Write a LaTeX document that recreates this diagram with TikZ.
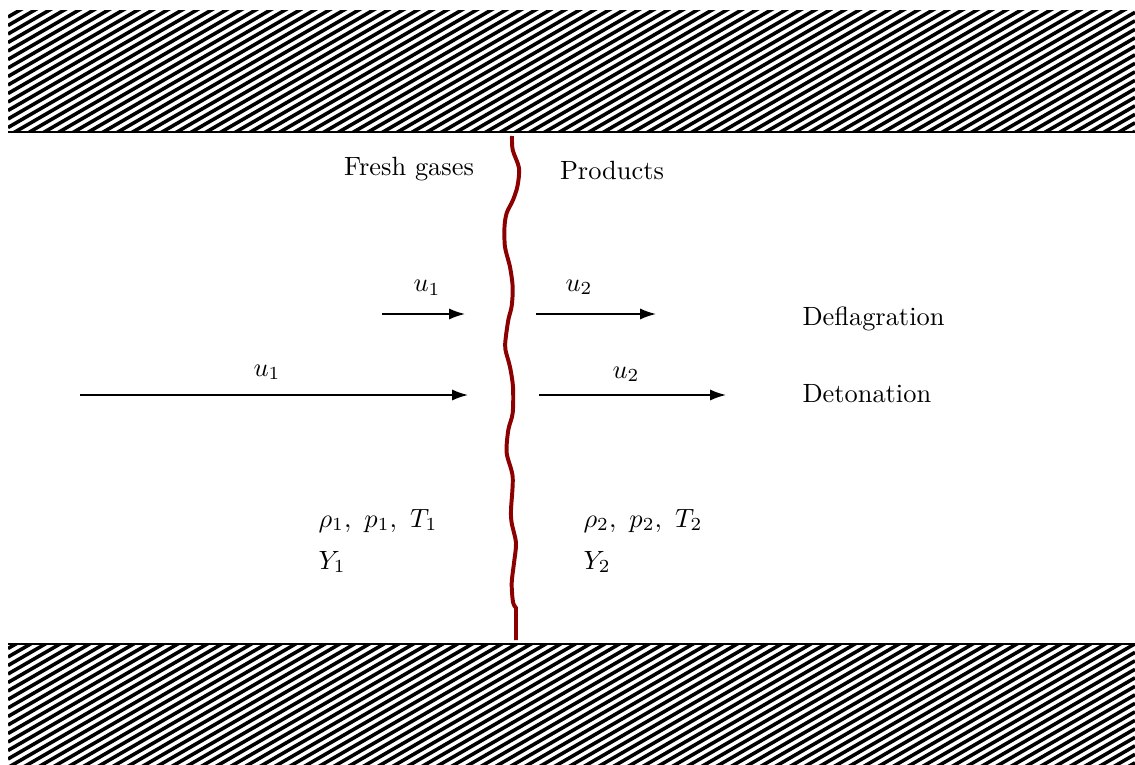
\documentclass[tikz,border=0pt]{standalone}
\usetikzlibrary{arrows.meta}
\definecolor{flamered}{RGB}{139,0,0}
\begin{document}
\begin{tikzpicture}[x=0.379pt,y=-0.379pt,
  hatchline/.style={line width=1.35pt,line cap=butt},
  wallline/.style={line width=1pt},
  flow/.style={line width=0.6pt,-{Latex[length=6pt,width=4.2pt]}},
  flame/.style={draw=flamered,line width=1.5pt},
  lbl/.style={anchor=base,inner sep=0pt},
  lbll/.style={anchor=base west,inner sep=0pt}]
\useasboundingbox (0,0) rectangle (1135,765);
% walls
\begin{scope}
  \clip (8,10) rectangle (1135,132);
  \foreach \c in {0,8.5,...,800} \draw[hatchline] (8,\c) -- (1135,{\c-650.7});
\end{scope}
\draw[wallline] (8,132) -- (1135,132);
\begin{scope}
  \clip (8,644) rectangle (1135,765);
  \foreach \c in {640,648.5,...,1430} \draw[hatchline] (8,\c) -- (1135,{\c-650.7});
\end{scope}
\draw[wallline] (8,644) -- (1135,644);
% flame front
\draw[flame] plot[smooth,tension=0.5] coordinates {(512,136) (512.7,150) (519,168) (517.5,186) (513,200) (506.7,213) (504.5,227) (505,247) (510,267) (512.7,287) (511.7,306) (508.3,320) (505.5,340) (505.5,350) (510,367) (513,387) (512.7,413) (508.3,430) (506.7,453) (512.7,477) (511,510) (511.7,523) (516,543) (514,563) (511.7,583) (513,602) (516,608)} -- (516,640);
% labels
\node[lbl] (fresh) at (409,175) {Fresh gases};
\node[lbl] (prod) at (612,179) {Products};
\node[lbll] (defl) at (802,325) {Deflagration};
\node[lbll] (deto) at (802,402) {Detonation};
% deflagration arrows
\coordinate (a1s) at (382,314); \coordinate (a1e) at (465,314);
\coordinate (a2s) at (536,314); \coordinate (a2e) at (656,314);
\draw[flow] (a1s) -- (a1e);
\draw[flow] (a2s) -- (a2e);
\node[lbll] (u1a) at (413,292) {$u_1$};
\node[lbll] (u2a) at (565,291) {$u_2$};
% detonation arrows
\coordinate (b1s) at (80,395); \coordinate (b1e) at (468,395);
\coordinate (b2s) at (539,395); \coordinate (b2e) at (726,395);
\draw[flow] (b1s) -- (b1e);
\draw[flow] (b2s) -- (b2e);
\node[lbll] (u1b) at (253,376) {$u_1$};
\node[lbll] (u2b) at (612,378) {$u_2$};
% states
\node[lbll] (s1) at (318,527) {$\rho_1,~p_1,~T_1$};
\node[lbll] (y1) at (318,569) {$Y_1$};
\node[lbll] (s2) at (583,527) {$\rho_2,~p_2,~T_2$};
\node[lbll] (y2) at (583,569) {$Y_2$};
\end{tikzpicture}
\end{document}
